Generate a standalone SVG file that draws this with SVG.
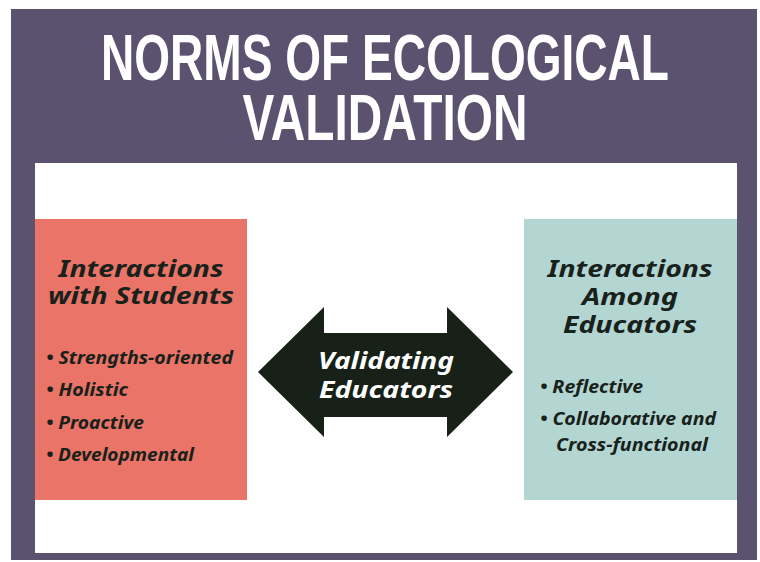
<svg xmlns="http://www.w3.org/2000/svg" width="760" height="562" viewBox="0 0 760 562">
<style>
.title{font-family:"Liberation Sans","DejaVu Sans",sans-serif;font-weight:bold;font-size:64px;fill:#ffffff;text-anchor:middle}
.head{font-family:"Noto Sans","DejaVu Sans",sans-serif;font-weight:bold;font-style:italic;font-size:23px;fill:#18211a;text-anchor:middle}
.item{font-family:"Noto Sans","DejaVu Sans",sans-serif;font-weight:bold;font-style:italic;font-size:17.5px;fill:#18211a}
.lbl{font-family:"Noto Sans","DejaVu Sans",sans-serif;font-weight:bold;font-style:italic;font-size:24px;fill:#ffffff;text-anchor:middle}
</style>
<rect x="0" y="0" width="760" height="562" fill="#ffffff"/>
<rect x="11" y="9" width="746" height="551" fill="#5b5270"/>
<rect x="35" y="163" width="702" height="390" fill="#ffffff"/>
<g id="title">
<text class="title" x="385" y="80" textLength="568" lengthAdjust="spacingAndGlyphs">NORMS OF ECOLOGICAL</text>
<text class="title" x="385" y="140" textLength="285" lengthAdjust="spacingAndGlyphs">VALIDATION</text>
</g>
<g id="students">
<rect x="35" y="219" width="212" height="281" fill="#ea7468"/>
<text class="head" x="141" y="277" textLength="165" lengthAdjust="spacingAndGlyphs">Interactions</text>
<text class="head" x="141" y="304" textLength="186" lengthAdjust="spacingAndGlyphs">with Students</text>
<text class="item" x="46" y="364" textLength="187" lengthAdjust="spacingAndGlyphs">• Strengths-oriented</text>
<text class="item" x="46" y="396" textLength="82" lengthAdjust="spacingAndGlyphs">• Holistic</text>
<text class="item" x="46" y="429" textLength="98" lengthAdjust="spacingAndGlyphs">• Proactive</text>
<text class="item" x="46" y="461" textLength="148" lengthAdjust="spacingAndGlyphs">• Developmental</text>
</g>
<g id="connectors">
<polygon points="258,372 324,307 324,333 447,333 447,307 513,372 447,437 447,417 324,417 324,437" fill="#172118"/>
<text class="lbl" x="386" y="369" textLength="136" lengthAdjust="spacingAndGlyphs">Validating</text>
<text class="lbl" x="386" y="398" textLength="134" lengthAdjust="spacingAndGlyphs">Educators</text>
</g>
<g id="educators">
<rect x="524" y="219" width="213" height="281" fill="#b3d6d3"/>
<text class="head" x="630" y="277" textLength="165" lengthAdjust="spacingAndGlyphs">Interactions</text>
<text class="head" x="630" y="305" textLength="96" lengthAdjust="spacingAndGlyphs">Among</text>
<text class="head" x="630" y="333" textLength="134" lengthAdjust="spacingAndGlyphs">Educators</text>
<text class="item" x="540" y="393" textLength="103" lengthAdjust="spacingAndGlyphs">• Reflective</text>
<text class="item" x="540" y="425" textLength="176" lengthAdjust="spacingAndGlyphs">• Collaborative and</text>
<text class="item" x="556" y="451" textLength="152" lengthAdjust="spacingAndGlyphs">Cross-functional</text>
</g>
</svg>
